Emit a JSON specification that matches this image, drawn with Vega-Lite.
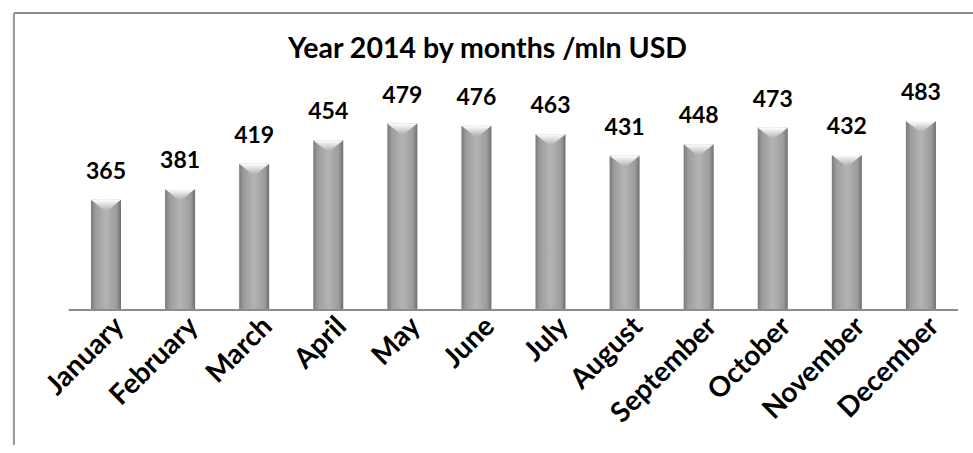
{
  "$schema": "https://vega.github.io/schema/vega-lite/v6.json",
  "autosize": {"type": "none"},
  "padding": {"left": 14, "top": 13, "right": 0, "bottom": 0},
  "width": 959,
  "height": 432,
  "background": "white",
  "config": {"view": {"stroke": "transparent"}, "font": "Lato"},
  "title": {"text": "Year 2014 by months /mln USD", "font": "Lato", "fontSize": 28.5, "fontWeight": "bold", "color": "#000000", "anchor": "middle", "frame": "group", "offset": -51, "dx": -6},
  "data": {"values": [
    {"month": "January", "value": 365},
    {"month": "February", "value": 381},
    {"month": "March", "value": 419},
    {"month": "April", "value": 454},
    {"month": "May", "value": 479},
    {"month": "June", "value": 476},
    {"month": "July", "value": 463},
    {"month": "August", "value": 431},
    {"month": "September", "value": 448},
    {"month": "October", "value": 473},
    {"month": "November", "value": 432},
    {"month": "December", "value": 483}
  ]},
  "layer": [
    {"mark": {"type": "bar", "color": {"gradient": "linear", "x1": 0, "x2": 1, "y1": 0, "y2": 0, "stops": [{"offset": 0, "color": "#7a7a7a"}, {"offset": 0.15, "color": "#9c9c9c"}, {"offset": 0.5, "color": "#b4b4b4"}, {"offset": 0.85, "color": "#9c9c9c"}, {"offset": 1, "color": "#6e6e6e"}]}},
     "encoding": {
       "x": {"field": "month", "type": "nominal", "sort": null,
         "scale": {"paddingInner": 0.595, "paddingOuter": 0.77, "align": 0.675},
         "axis": {"title": null, "orient": "bottom", "offset": -135, "labelAngle": -45, "labelFont": "Lato", "labelFontSize": 28, "labelFontWeight": "bold", "labelColor": "#000000", "ticks": false, "domain": false, "labelPadding": 2, "labelOffset": 4, "labelAlign": "right", "labelBaseline": "top"}},
       "y": {"field": "value", "type": "quantitative", "scale": {"domain": [-2.1, 644.6], "nice": false, "zero": false}, "axis": null},
       "y2": {"datum": 200}
     }},
    {"mark": {"type": "point", "shape": "M-1,0L1,0L0,0.8Z", "filled": true, "size": 900, "opacity": 1, "color": {"gradient": "linear", "x1": 0, "x2": 0, "y1": 0, "y2": 1, "stops": [{"offset": 0, "color": "#ffffff"}, {"offset": 1, "color": "#a8a8a8"}]}},
     "encoding": {"x": {"field": "month", "type": "nominal", "sort": null}, "y": {"field": "value", "type": "quantitative"}}},
    {"mark": {"type": "rule", "color": "#8c8c8c", "strokeWidth": 2},
     "encoding": {"x": {"datum": "January", "bandPosition": -0.735}, "x2": {"datum": "December", "bandPosition": 1.735}, "y": {"datum": 200}}},
    {"mark": {"type": "text", "font": "Lato", "fontSize": 23, "fontWeight": "bold", "color": "#000000", "baseline": "alphabetic", "dy": -21},
     "encoding": {"x": {"field": "month", "type": "nominal", "sort": null}, "y": {"field": "value", "type": "quantitative"}, "text": {"field": "value", "type": "quantitative"}}},
    {"mark": {"type": "rule", "color": "#8c8c8c", "strokeWidth": 2},
     "encoding": {"y": {"datum": 644.6}}},
    {"mark": {"type": "rule", "color": "#9a9a9a", "strokeWidth": 2},
     "encoding": {"x": {"datum": "January", "bandPosition": -2.567}, "y": {"datum": 644.6}, "y2": {"datum": -15}}}
  ]
}
